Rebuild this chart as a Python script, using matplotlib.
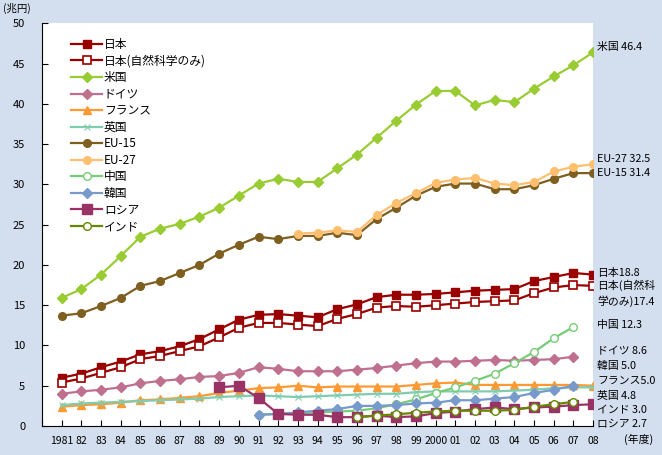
import matplotlib
matplotlib.use('Agg')
import matplotlib.pyplot as plt

plt.rcParams['font.family'] = ['Noto Sans CJK JP', 'DejaVu Sans']

years = list(range(1981, 2009))
year_labels = ['1981'] + ['%02d' % (y % 100) for y in range(1982, 2000)] + ['2000'] + ['%02d' % (y % 100) for y in range(2001, 2009)]

japan = [6.0, 6.5, 7.3, 8.0, 8.9, 9.3, 9.9, 10.8, 12.0, 13.2, 13.8, 13.9, 13.7, 13.5,
         14.5, 15.1, 16.0, 16.3, 16.3, 16.4, 16.6, 16.8, 16.9, 17.0, 18.0, 18.5, 19.0, 18.8]
japan_ns = [5.4, 5.9, 6.6, 7.3, 8.3, 8.7, 9.3, 9.9, 11.0, 12.2, 12.8, 12.8, 12.6, 12.4,
            13.3, 13.9, 14.7, 14.9, 14.8, 15.0, 15.2, 15.4, 15.5, 15.6, 16.5, 17.2, 17.5, 17.4]
usa = [15.9, 17.0, 18.8, 21.1, 23.5, 24.5, 25.1, 26.0, 27.1, 28.6, 30.1, 30.7, 30.3, 30.3,
       32.0, 33.7, 35.8, 37.9, 39.9, 41.6, 41.6, 39.8, 40.5, 40.2, 41.9, 43.4, 44.8, 46.4]
germany = [4.0, 4.3, 4.5, 4.8, 5.3, 5.6, 5.8, 6.1, 6.2, 6.6, 7.3, 7.1, 6.8, 6.8,
           6.8, 7.0, 7.2, 7.5, 7.8, 8.0, 8.0, 8.1, 8.2, 8.1, 8.2, 8.3, 8.6]
france = [2.4, 2.6, 2.7, 2.9, 3.2, 3.3, 3.5, 3.7, 4.1, 4.4, 4.7, 4.8, 5.0, 4.8,
          4.9, 4.9, 4.9, 4.9, 5.1, 5.3, 5.4, 5.1, 5.1, 5.1, 5.1, 5.1, 5.1, 5.0]
uk = [2.6, 2.8, 2.9, 3.0, 3.1, 3.2, 3.3, 3.4, 3.6, 3.7, 3.8, 3.7, 3.6, 3.7,
      3.8, 3.9, 4.0, 4.0, 4.2, 4.3, 4.3, 4.3, 4.3, 4.4, 4.5, 4.7, 4.8, 4.8]
eu15 = [13.7, 14.0, 14.9, 15.9, 17.4, 18.0, 19.0, 20.0, 21.4, 22.5, 23.5, 23.2, 23.6, 23.6,
        24.0, 23.7, 25.7, 27.1, 28.6, 29.7, 30.1, 30.1, 29.4, 29.4, 29.9, 30.7, 31.4, 31.4]
eu27_years = list(range(1993, 2009))
eu27 = [23.9, 24.0, 24.3, 24.1, 26.2, 27.7, 28.9, 30.2, 30.6, 30.8, 30.1, 29.9, 30.3, 31.6, 32.2, 32.5]
china_years = list(range(1991, 2008))
china = [1.4, 1.5, 1.6, 1.7, 1.8, 1.9, 2.2, 2.7, 3.3, 4.1, 4.8, 5.6, 6.5, 7.8, 9.2, 10.9, 12.3]
korea_years = list(range(1991, 2008))
korea = [1.4, 1.5, 1.7, 1.9, 2.1, 2.5, 2.5, 2.6, 2.8, 2.9, 3.2, 3.2, 3.4, 3.6, 4.1, 4.5, 5.0]
russia_years = list(range(1989, 2009))
russia = [4.8, 5.0, 3.5, 1.5, 1.4, 1.4, 1.1, 1.1, 1.3, 1.1, 1.2, 1.6, 1.8, 2.1, 2.3, 2.1, 2.3, 2.4, 2.6, 2.7]
india_years = list(range(1996, 2008))
india = [1.1, 1.3, 1.45, 1.65, 1.8, 1.9, 1.9, 1.9, 2.0, 2.4, 2.7, 3.0]

# label text and where it sits (value on the y scale)
end_labels = [('米国 46.4', 47.0), ('EU-27 32.5', 33.2), ('EU-15 31.4', 31.4),
              ('日本18.8', 19.0), ('日本(自然科\n学のみ)17.4', 16.5), ('中国 12.3', 12.6),
              ('ドイツ 8.6', 9.3), ('韓国 5.0', 7.45), ('フランス5.0', 5.6), ('英国 4.8', 3.75),
              ('インド 3.0', 2.0), ('ロシア 2.7', 0.25)]

fig = plt.figure(figsize=(6.62, 4.55), dpi=100)
fig.patch.set_facecolor('#D3DFEF')
ax = fig.add_axes([0.0634, 0.0637, 0.8326, 0.8851])
ax.set_facecolor('white')

lw = 1.6
ax.plot(years, japan, '-s', color='#990000', lw=lw, ms=6, label='日本', zorder=5)
ax.plot(years, japan_ns, '-s', color='#990000', mfc='white', mec='#990000', mew=1.2, lw=lw, ms=6,
        label='日本(自然科学のみ)', zorder=5)
ax.plot(years, usa, '-D', color='#99CC33', lw=lw, ms=5, label='米国')
ax.plot(years[:len(germany)], germany, '-D', color='#C0708F', lw=lw, ms=5, label='ドイツ')
ax.plot(years, france, '-^', color='#FF9933', lw=lw, ms=6, label='フランス')
ax.plot(years, uk, '-x', color='#7FCCAF', lw=lw, ms=5, mew=0.8, label='英国')
ax.plot(years, eu15, '-o', color='#7F5F1F', lw=lw, ms=5.5, label='EU-15')
ax.plot(eu27_years, eu27, '-o', color='#FFBF6F', lw=lw, ms=5.5, label='EU-27')
ax.plot(china_years, china, '-o', color='#77CC77', mfc='white', mew=1.0, lw=lw, ms=5.5, label='中国')
ax.plot(korea_years, korea, '-D', color='#7799CC', lw=lw, ms=5, label='韓国')
ax.plot(russia_years, russia, '-s', color='#993366', lw=lw, ms=7, label='ロシア')
ax.plot(india_years, india, '-o', color='#668800', mfc='white', mew=1.0, lw=lw, ms=5.5, label='インド')

ax.set_xlim(1980, 2008)
ax.set_ylim(0, 50)
ax.set_xticks([1980] + years)
ax.set_xticklabels([''] + year_labels, fontsize=7.5)
ax.set_yticks(range(0, 51, 5))
ax.tick_params(axis='y', direction='in', length=4, labelsize=8, pad=12)
ax.tick_params(axis='x', direction='in', length=4, pad=7)
ax.spines['top'].set_visible(False)
ax.spines['right'].set_visible(False)

for text, yv in end_labels:
    ax.annotate(text, xy=(1.0, yv / 50.0), xycoords='axes fraction', xytext=(3, 0),
                textcoords='offset points', fontsize=7.8, va='center', ha='left',
                linespacing=1.45, annotation_clip=False)

fig.text(0.005, 0.982, '(兆円)', fontsize=7.5, va='center', ha='left')
fig.text(0.965, 0.035, '(年度)', fontsize=7.8, va='center', ha='center')

ax.legend(loc='upper left', bbox_to_anchor=(0.045, 0.975), frameon=False, fontsize=8.5,
          handlelength=2.6, handletextpad=0.15, labelspacing=0.3, borderaxespad=0.0)

fig.savefig('out.png', dpi=100, facecolor=fig.get_facecolor())
